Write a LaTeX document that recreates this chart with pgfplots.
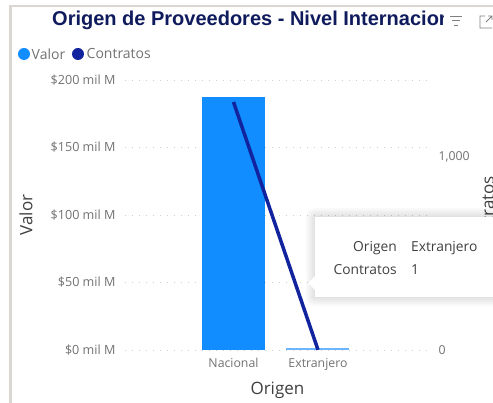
\documentclass[border=0pt]{standalone}
\usepackage{fontspec}
\setmainfont{Open Sans}
\newfontfamily\titlefont{Liberation Sans}
\usepackage{pgfplots}
\pgfplotsset{compat=1.18}
\definecolor{barblue}{HTML}{118DFF}
\definecolor{barlight}{HTML}{6DB6FF}
\definecolor{linenavy}{HTML}{12239E}
\definecolor{titlenavy}{HTML}{0F1B5C}
\definecolor{ticktxt}{HTML}{727272}
\definecolor{labeltxt}{HTML}{404040}
\definecolor{griddots}{HTML}{CFCFCF}
\definecolor{framegray}{HTML}{DAD6D2}

\pgfplotstableread{
x contratos
0 1285
1 1
}\datos

\begin{document}
\begin{tikzpicture}[x=1pt,y=1pt]
  \useasboundingbox (0,0) rectangle (493,402);
  \fill[white] (0,0) rectangle (493,402);

  % marco de la tarjeta
  \draw[framegray,line width=2.5pt] (10.5,-5) -- (10.5,396) -- (500,396);

  % eje izquierdo: valor
  \begin{axis}[
    at={(125pt,52pt)},
    anchor=south west,
    scale only axis, width=303pt, height=270pt,
    xmin=-1.284, xmax=2.302,
    ymin=0, ymax=200,
    axis y line*=left, axis x line*=bottom,
    axis line style={draw=none},
    tick style={draw=none},
    xtick={0,1}, xticklabels={Nacional,Extranjero},
    ytick={0,50,100,150,200},
    yticklabels={\$0 mil M,\$50 mil M,\$100 mil M,\$150 mil M,\$200 mil M},
    yticklabel style={font=\fontsize{12.6}{14}\selectfont, text=ticktxt, xshift=-6pt},
    xticklabel style={font=\fontsize{12.3}{14}\selectfont, text=ticktxt, yshift=-5pt},
    ymajorgrids,
    grid style={griddots, line width=0.9pt, dash pattern=on 1pt off 6pt},
    xlabel={Origen}, ylabel={Valor},
    xlabel style={font=\fontsize{17}{19}\selectfont, text=labeltxt, at={(axis description cs:0.503,-0.149)}, anchor=center},
    ylabel style={font=\fontsize{17}{19}\selectfont, text=labeltxt, at={(axis description cs:-0.327,0.5)}, anchor=center},
  ]
    \addplot[ybar, bar width=63pt, bar shift=0pt, fill=barblue, draw=none] coordinates {(0,187.5)};
    \addplot[ybar, bar width=63pt, bar shift=0pt, fill=barlight, draw=none] coordinates {(1,1.2)};
  \end{axis}

  % eje derecho: contratos
  \begin{axis}[
    at={(125pt,52pt)},
    anchor=south west,
    scale only axis, width=303pt, height=270pt,
    xmin=-1.284, xmax=2.302,
    ymin=0, ymax=1399,
    axis y line*=right, axis x line=none,
    axis line style={draw=none},
    tick style={draw=none},
    ytick={0,1000}, yticklabels={0,{1,000}},
    yticklabel style={font=\fontsize{12.3}{14}\selectfont, text=ticktxt, xshift=7pt},
    ylabel={Contratos},
    ylabel style={font=\fontsize{17}{19}\selectfont, text=labeltxt, at={(axis description cs:1.197,0.5)}, anchor=center},
  ]
    \addplot[linenavy, line width=3.5pt, line cap=butt] table[x=x,y=contratos] {\datos};
  \end{axis}

  % titulo recortado
  \begin{scope}
    \clip (0,360) rectangle (443,402);
    \node[anchor=west,inner sep=0pt,text=titlenavy,font=\titlefont\bfseries\fontsize{20}{22}\selectfont] at (52,382) {Origen de Proveedores - Nivel Internacional};
  \end{scope}

  % iconos de la tarjeta
  \draw[gray,line width=0.8pt] (450,386) -- (462,386) (452,381.5) -- (460,381.5) (454,377) -- (458,377);
  \draw[gray,line width=0.8pt] (485,386) -- (480,386) -- (480,374) -- (492,374) (486,380) -- (492,386) (488,386) -- (492,386) -- (492,382);

  % leyenda
  \fill[barblue] (24,348) circle (6);
  \node[anchor=west,inner sep=0pt,text=ticktxt,font=\fontsize{14}{16}\selectfont] at (31.5,348) {Valor};
  \fill[linenavy] (78,348) circle (6);
  \node[anchor=west,inner sep=0pt,text=ticktxt,font=\fontsize{14}{16}\selectfont] at (86.5,348) {Contratos};

  % tooltip con sombra
  \foreach \s in {9,7,5,3,1}
    \fill[black,opacity=0.022,rounded corners=\s pt] (315-\s,105-\s) rectangle (510,185+\s);
  \fill[white] (315,105) rectangle (510,185);
  \fill[white] (315,112) -- (308,119) -- (315,126) -- cycle;
  \node[anchor=east,inner sep=0pt,text=labeltxt,font=\fontsize{13.8}{15}\selectfont] at (397,154) {Origen};
  \node[anchor=east,inner sep=0pt,text=labeltxt,font=\fontsize{13.8}{15}\selectfont] at (397,132.5) {Contratos};
  \node[anchor=west,inner sep=0pt,text=labeltxt,font=\fontsize{13.8}{15}\selectfont] at (411,154) {Extranjero};
  \node[anchor=west,inner sep=0pt,text=labeltxt,font=\fontsize{13.8}{15}\selectfont] at (411,132.5) {1};
\end{tikzpicture}
\end{document}
